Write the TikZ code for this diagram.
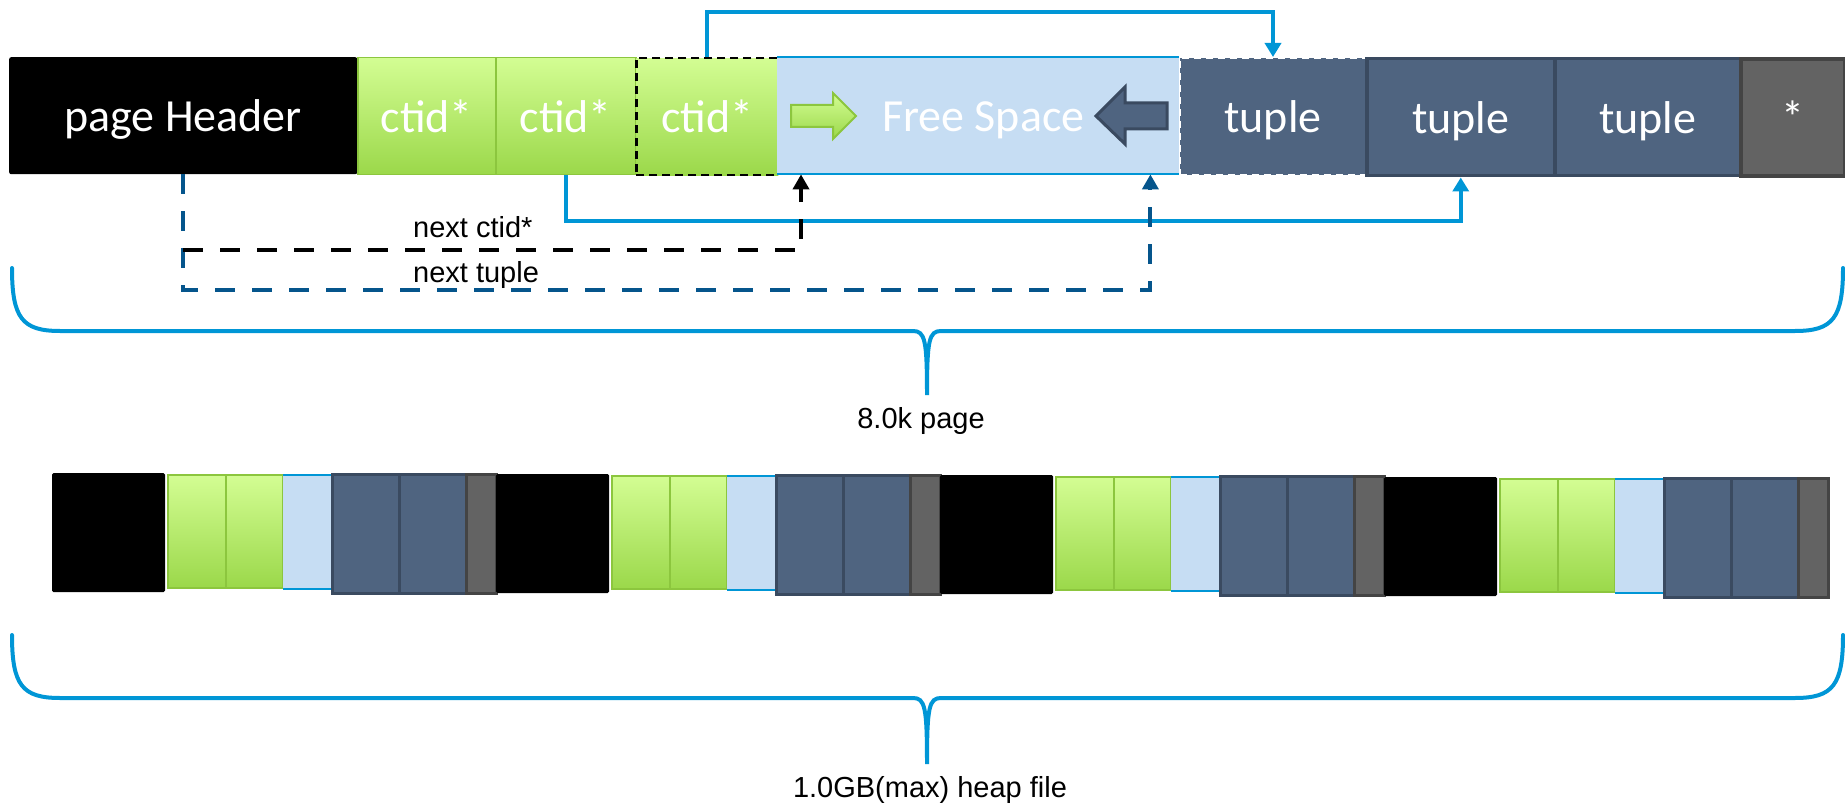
\documentclass[tikz,border=0pt]{standalone}
\usepackage{fontspec}
\setmainfont{Liberation Sans}
\newfontfamily\cellfont{Carlito}
\usetikzlibrary{arrows.meta}
\definecolor{linkblue}{RGB}{0,150,214}
\definecolor{navydash}{RGB}{5,85,140}
\definecolor{freefill}{RGB}{198,221,243}
\definecolor{tuplefill}{RGB}{79,100,128}
\definecolor{tupleedge}{RGB}{58,74,96}
\definecolor{endfill}{RGB}{99,99,99}
\definecolor{endedge}{RGB}{68,68,68}
\definecolor{greentop}{RGB}{211,253,147}
\definecolor{greenbot}{RGB}{155,216,74}
\definecolor{greenedge}{RGB}{140,198,62}
\tikzset{
  cell/.style={rectangle, inner sep=0pt, minimum height=117pt, anchor=north west,
    text=white, font=\cellfont\fontsize{46}{50}\selectfont, text height=32pt, text depth=0pt},
  hdrcell/.style={cell, fill=black, rounded corners=2pt},
  ctidcell/.style={cell, top color=greentop, bottom color=greenbot, draw=greenedge, line width=1.5pt},
  freecell/.style={cell, fill=freefill},
  tuplecell/.style={cell, fill=tuplefill, draw=tupleedge, line width=3.5pt},
  endcell/.style={cell, fill=endfill, draw=endedge, line width=4pt},
  link/.style={draw=linkblue, line width=4pt, -{Triangle[width=16pt,length=14pt]}},
  ptrline/.style={line width=4pt, dash pattern=on 20pt off 17pt, -{Triangle[width=16pt,length=15pt]}},
  brace/.style={draw=linkblue, line width=4pt, line cap=round},
  lbl/.style={font=\fontsize{29}{32}\selectfont, inner sep=0pt}
}
\begin{document}
\begin{tikzpicture}[x=1pt, y=-1pt]
\useasboundingbox (0,0) rectangle (1845,805);
%% one page, top row
\node[hdrcell, minimum width=348pt] (hdr) at (9,57) {page Header};
\node[ctidcell, minimum width=138pt] (c1) at (357,57) {ctid*};
\node[ctidcell, minimum width=140pt] (c2) at (495,57) {ctid*};
\node[ctidcell, minimum width=142pt, draw=black, line width=2.5pt, dash pattern=on 8pt off 5pt] (c3) at (635,57) {ctid*};
\node[freecell, minimum width=402pt] (free) at (777,57) {\hspace*{10pt}Free Space};
\draw[linkblue, line width=2pt] (free.north west) -- (free.north east) (free.south west) -- (free.south east);
\node[tuplecell, minimum width=186pt, draw=white, line width=2pt, dash pattern=on 7pt off 5pt] (t1) at (1179,57) {tuple};
\node[tuplecell, minimum width=188pt] (t2) at (1365,57) {tuple};
\node[tuplecell, minimum width=186pt] (t3) at (1553,57) {tuple};
\node[endcell, minimum width=104pt] (end) at (1739,57) {*};
% growth arrows inside free space
\draw[top color=greentop, bottom color=greenbot, draw=greenedge, line width=2pt]
  (791,105) -- (833,105) -- (833,93) -- (856,116) -- (833,139) -- (833,127) -- (791,127) -- cycle;
\draw[fill=tuplefill, draw=tupleedge, line width=3pt]
  (1167,103) -- (1125,103) -- (1125,87) -- (1096,116) -- (1125,144) -- (1125,129) -- (1167,129) -- cycle;
% pointers
\draw[link] (c3.north) -- ++(0,-45) -| (t1.north);
\draw[link] (c2.south) -- ++(0,46) -| (t2.south);
\coordinate (split) at ([yshift=-76pt]hdr.south);
\draw[ptrline, draw=navydash] (hdr.south) -- ++(0,116) -| ([xshift=-29pt]free.south east);
\draw[ptrline, draw=black] (split) -| ([xshift=24pt]free.south west);
\node[lbl, anchor=base west] (ctidlbl) at (413,238) {next ctid*};
\node[lbl, anchor=base west] (tuplelbl) at (413,283) {next tuple};
% page brace
\draw[brace] (12,268) .. controls (12,318) and (22,331) .. (60,331) -- (913,331)
  .. controls (925,331) and (927,340) .. (927,395) .. controls (927,340) and (929,331) .. (941,331)
  -- (1795,331) .. controls (1833,331) and (1843,318) .. (1843,268);
\node[lbl, anchor=base] (pagelbl) at (921,428) {8.0k page};
%% heap file: four small pages
\foreach \i/\dy in {0/0,1/1,2/2,3/4} {
  \begin{scope}[shift={(52+444*\i,473+\dy)}]
    \fill[black, rounded corners=1.5pt] (0,0) rectangle (113,119);
    \shade[top color=greentop, bottom color=greenbot, draw=greenedge, line width=1.2pt] (116,2) rectangle (174,115);
    \shade[top color=greentop, bottom color=greenbot, draw=greenedge, line width=1.2pt] (174,2) rectangle (231,115);
    \fill[freefill] (231,2) rectangle (280,116);
    \draw[linkblue, line width=1.5pt] (231,2) -- (280,2) (231,116) -- (280,116);
    \draw[fill=tuplefill, draw=tupleedge, line width=3pt] (280,1) rectangle (347,120);
    \draw[fill=tuplefill, draw=tupleedge, line width=3pt] (347,1) rectangle (414,120);
    \draw[fill=endfill, draw=endedge, line width=3pt] (414,1) rectangle (444,120);
  \end{scope}
}
% file brace
\draw[brace] (12,635) .. controls (12,685) and (22,698) .. (60,698) -- (913,698)
  .. controls (925,698) and (927,707) .. (927,764) .. controls (927,707) and (929,698) .. (941,698)
  -- (1795,698) .. controls (1833,698) and (1843,685) .. (1843,635);
\node[lbl, anchor=base] (filelbl) at (930,797) {1.0GB(max) heap file};
\end{tikzpicture}
\end{document}
